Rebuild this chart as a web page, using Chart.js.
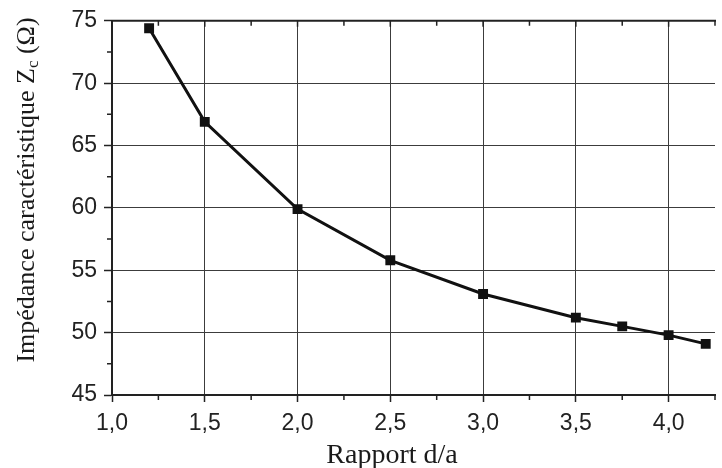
<!DOCTYPE html>
<html>
<head>
<meta charset="utf-8">
<style>
  html, body { margin: 0; padding: 0; background: #fff; }
  #wrap { width: 722px; height: 468px; }
</style>
<script src="https://cdn.jsdelivr.net/npm/chart.js@4.4.0/dist/chart.umd.min.js"></script>
</head>
<body>
<div id="wrap"><canvas id="chart" width="722" height="468"></canvas></div>
<script>
  /* ── Data ─────────────────────────────────────────────────────────────── */
  const ratios    = [1.2, 1.5, 2.0, 2.5, 3.0, 3.5, 3.75, 4.0, 4.2];
  const impedance = [74.4, 66.9, 59.9, 55.8, 53.1, 51.2, 50.5, 49.8, 49.1];
  const xMinorTicks = [1.25, 1.75, 2.25, 2.75, 3.25, 3.75, 4.25];
  const yMinorTicks = [47.5, 52.5, 57.5, 62.5, 67.5, 72.5];
  const xTitle = 'Rapport d/a';
  const yTitleParts = ['Impédance caractéristique Z', 'c', ' (Ω)'];

  const AXIS_COLOR = '#222';
  const GRID_COLOR = '#3c3c3c';
  const SERIF = '"Liberation Serif", "Times New Roman", serif';

  /* ── Extras: frame top, minor ticks, axis titles ─────────────────────── */
  const extras = {
    id: 'extras',
    afterDraw(chart) {
      const { ctx, chartArea: a, scales: { x, y } } = chart;
      ctx.save();
      ctx.strokeStyle = AXIS_COLOR;

      // top frame line with inward ticks
      ctx.lineWidth = 2;
      ctx.beginPath();
      ctx.moveTo(a.left - 1, a.top);
      ctx.lineTo(a.right + 1, a.top);
      ctx.stroke();

      ctx.lineWidth = 1.5;
      ctx.beginPath();
      x.ticks.forEach(t => {
        const px = x.getPixelForValue(t.value);
        ctx.moveTo(px, a.top); ctx.lineTo(px, a.top + 6);
      });
      xMinorTicks.forEach(v => {
        const px = x.getPixelForValue(v);
        ctx.moveTo(px, a.top); ctx.lineTo(px, a.top + 5);
        ctx.moveTo(px, a.bottom); ctx.lineTo(px, a.bottom + 5);
      });
      yMinorTicks.forEach(v => {
        const py = y.getPixelForValue(v);
        ctx.moveTo(a.left, py); ctx.lineTo(a.left - 5, py);
      });
      ctx.stroke();

      // x title
      ctx.fillStyle = '#1a1a1a';
      ctx.font = '28px ' + SERIF;
      ctx.textAlign = 'center';
      ctx.textBaseline = 'alphabetic';
      ctx.fillText(xTitle, 392, 463);

      // y title with subscript c
      ctx.translate(34, 190);
      ctx.rotate(-Math.PI / 2);
      const big = '26px ' + SERIF, small = '17px ' + SERIF;
      ctx.font = big;
      const w0 = ctx.measureText(yTitleParts[0]).width;
      const w2 = ctx.measureText(yTitleParts[2]).width;
      ctx.font = small;
      const w1 = ctx.measureText(yTitleParts[1]).width;
      let cx = -(w0 + w1 + w2) / 2;
      ctx.textAlign = 'left';
      ctx.font = big;
      ctx.fillText(yTitleParts[0], cx, 0);
      cx += w0;
      ctx.font = small;
      ctx.fillText(yTitleParts[1], cx, 4);
      cx += w1;
      ctx.font = big;
      ctx.fillText(yTitleParts[2], cx, 0);
      ctx.restore();
    }
  };

  Chart.defaults.font.family = '"Liberation Sans", Arial, sans-serif';
  Chart.defaults.color = '#222';

  new Chart(document.getElementById('chart').getContext('2d'), {
    type: 'scatter',
    data: {
      datasets: [{
        data: ratios.map((r, i) => ({ x: r, y: impedance[i] })),
        showLine: true,
        borderColor: '#111',
        borderWidth: 3,
        backgroundColor: '#111',
        pointStyle: 'rect',
        pointRadius: 7,
        pointHoverRadius: 7,
        pointBorderWidth: 0
      }]
    },
    options: {
      responsive: false,
      animation: false,
      layout: { padding: { top: 20, right: 1, left: 0, bottom: 0 } },
      plugins: { legend: { display: false }, tooltip: { enabled: false } },
      scales: {
        x: {
          type: 'linear', min: 1, max: 4.25,
          afterFit: s => { s.height = 73; },
          ticks: {
            stepSize: 0.5, includeBounds: false, padding: 8,
            font: { size: 23 }, color: '#222',
            callback: v => v.toFixed(1).replace('.', ',')
          },
          grid: { color: GRID_COLOR, lineWidth: 1, tickColor: AXIS_COLOR, tickLength: 7, tickWidth: 1.5 },
          border: { color: AXIS_COLOR, width: 2 }
        },
        y: {
          min: 45, max: 75,
          afterFit: s => { s.width = 112; },
          ticks: { stepSize: 5, padding: 7, font: { size: 23 }, color: '#222' },
          grid: { color: GRID_COLOR, lineWidth: 1, tickColor: AXIS_COLOR, tickLength: 8, tickWidth: 1.5 },
          border: { color: AXIS_COLOR, width: 2 }
        }
      }
    },
    plugins: [extras]
  });
</script>
</body>
</html>
